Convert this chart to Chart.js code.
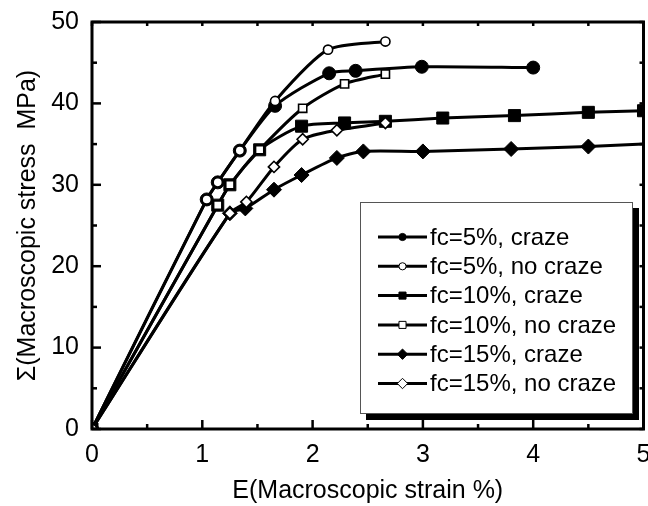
<!DOCTYPE html>
<html>
<head>
<meta charset="utf-8">
<script src="https://cdn.jsdelivr.net/npm/chart.js@4/dist/chart.umd.min.js"></script>
<style>
html,body{margin:0;padding:0;background:#fff;overflow:hidden;}
#wrap{width:648px;height:506px;position:relative;overflow:hidden;}
#c{display:block;}
</style>
</head>
<body>
<div id="wrap"><canvas id="c" width="653" height="506"></canvas></div>
<script>
// ---- data ----
const seriesLabels = ['fc=5%, craze', 'fc=5%, no craze', 'fc=10%, craze', 'fc=10%, no craze', 'fc=15%, craze', 'fc=15%, no craze'];

const craze5X   = [0, 1.04, 1.14, 1.34, 1.66, 2.15, 2.39, 2.99, 4.00];
const craze5Y   = [0, 28.2, 30.3, 34.2, 39.7, 43.7, 44.0, 44.5, 44.4];
const noCraze5X = [0, 1.04, 1.14, 1.34, 1.66, 2.14, 2.66];
const noCraze5Y = [0, 28.2, 30.3, 34.2, 40.3, 46.6, 47.6];

const craze10X   = [0, 1.14, 1.25, 1.52, 1.90, 2.29, 2.66, 3.18, 3.83, 4.50, 5.00];
const craze10Y   = [0, 27.5, 30.0, 34.3, 37.2, 37.6, 37.8, 38.2, 38.5, 38.9, 39.1];
const noCraze10X = [0, 1.14, 1.25, 1.52, 1.91, 2.29, 2.66];
const noCraze10Y = [0, 27.5, 30.0, 34.3, 39.4, 42.4, 43.6];

const craze15X   = [0, 1.25, 1.39, 1.65, 1.90, 2.22, 2.46, 3.00, 3.80, 4.50, 5.00];
const craze15Y   = [0, 26.5, 27.1, 29.4, 31.2, 33.3, 34.1, 34.1, 34.4, 34.7, 35.0];
const noCraze15X = [0, 1.25, 1.40, 1.65, 1.91, 2.22, 2.66];
const noCraze15Y = [0, 26.5, 27.9, 32.2, 35.6, 36.7, 37.6];

const xTicks = [0, 1, 2, 3, 4, 5];
const yTicks = [0, 10, 20, 30, 40, 50];
const xTitle = 'E(Macroscopic strain %)';
const yTitle = '\u03A3(Macroscopic stress  MPa)';

// ---- build ----
const toPts = (xs, ys) => xs.map((x, i) => ({x: x, y: ys[i]}));

const markerSpecs = [
  {style: 'circle',  filled: true,  r: 6.5, lr: 3.6},
  {style: 'circle',  filled: false, r: 4.6, lr: 3.6},
  {style: 'rect',    filled: true,  r: 8.5, lr: 5.0},
  {style: 'rect',    filled: false, r: 5.8, lr: 5.0},
  {style: 'rectRot', filled: true,  r: 7.5, lr: 5.2},
  {style: 'rectRot', filled: false, r: 5.6, lr: 5.2}
];
const seriesData = [
  toPts(craze5X, craze5Y), toPts(noCraze5X, noCraze5Y),
  toPts(craze10X, craze10Y), toPts(noCraze10X, noCraze10Y),
  toPts(craze15X, craze15Y), toPts(noCraze15X, noCraze15Y)
];

const datasets = seriesData.map((d, i) => {
  const m = markerSpecs[i];
  return {
    label: seriesLabels[i],
    data: d,
    showLine: true,
    borderColor: '#000',
    borderWidth: 3,
    tension: 0.25,
    pointStyle: m.style,
    pointRadius: (ctx) => (i === 4 && ctx.dataIndex === d.length - 1) ? 0 : m.r,
    pointHoverRadius: m.r,
    pointBackgroundColor: m.filled ? '#000' : '#fff',
    pointBorderColor: '#000',
    pointBorderWidth: m.filled ? 1 : 1.6,
    order: m.filled ? 2 : 1,
    clip: 0
  };
});

Chart.defaults.font.family = "'Liberation Sans', Arial, sans-serif";
Chart.defaults.font.size = 25;
Chart.defaults.color = '#000';

function drawMarker(ctx, style, filled, r, x, y, bw) {
  ctx.beginPath();
  if (style === 'circle') {
    ctx.arc(x, y, r, 0, Math.PI * 2);
  } else if (style === 'rect') {
    const s = r * Math.SQRT1_2;
    ctx.rect(x - s, y - s, 2 * s, 2 * s);
  } else {
    ctx.moveTo(x - r, y); ctx.lineTo(x, y - r); ctx.lineTo(x + r, y); ctx.lineTo(x, y + r); ctx.closePath();
  }
  ctx.fillStyle = filled ? '#000' : '#fff';
  ctx.fill();
  ctx.lineWidth = bw;
  ctx.strokeStyle = '#000';
  ctx.stroke();
}

const framePlugin = {
  id: 'frameAndLegend',
  afterDatasetsDraw(chart) {
    const ctx = chart.ctx, a = chart.chartArea;
    const xs = chart.scales.x, ys = chart.scales.y;
    ctx.save();
    ctx.strokeStyle = '#000';
    const seg = (x1, y1, x2, y2) => { ctx.beginPath(); ctx.moveTo(x1, y1); ctx.lineTo(x2, y2); ctx.stroke(); };
    ctx.lineWidth = 2.5;
    for (let k = 0; k <= 10; k++) {
      const v = k * 0.5;
      const px = xs.getPixelForValue(v);
      const major = k % 2 === 0;
      seg(px, a.bottom, px, a.bottom - (major ? 9 : 5));
      seg(px, a.top, px, a.top + 4);
    }
    for (let k = 0; k <= 10; k++) {
      const v = k * 5;
      const py = ys.getPixelForValue(v);
      const major = k % 2 === 0;
      seg(a.left, py, a.left + (major ? 9 : 5), py);
      seg(a.right, py, a.right - 4, py);
    }
    ctx.lineWidth = 3;
    ctx.strokeRect(a.left, a.top, a.right - a.left, a.bottom - a.top);

    // legend box with shadow
    const lx = 360, ly = 202, lw = 273, lh = 212;
    ctx.fillStyle = '#000';
    ctx.fillRect(lx + 6, ly + 6, lw, lh);
    ctx.fillStyle = '#fff';
    ctx.fillRect(lx, ly, lw, lh);
    ctx.lineWidth = 1;
    ctx.strokeStyle = '#555';
    ctx.strokeRect(lx + 0.5, ly + 0.5, lw - 1, lh - 1);

    ctx.font = "24px 'Liberation Sans', Arial, sans-serif";
    ctx.textBaseline = 'middle';
    ctx.textAlign = 'left';
    chart.data.datasets.forEach((ds, i) => {
      const ry = 237 + i * 29.3;
      const m = markerSpecs[i];
      ctx.strokeStyle = '#000';
      ctx.lineWidth = 3;
      seg(378, ry, 427, ry);
      drawMarker(ctx, m.style, m.filled, m.lr, 402.5, ry, 1);
      ctx.fillStyle = '#000';
      ctx.fillText(ds.label, 430, ry + 1);
    });
    ctx.restore();
  }
};

new Chart(document.getElementById('c'), {
  type: 'scatter',
  data: {datasets: datasets},
  plugins: [framePlugin],
  options: {
    responsive: false,
    animation: false,
    devicePixelRatio: 1,
    layout: {padding: {left: 0, right: 0, top: 22, bottom: 0}},
    plugins: {legend: {display: false}, tooltip: {enabled: false}},
    scales: {
      x: {
        type: 'linear', min: 0, max: 5,
        afterBuildTicks: (s) => { s.ticks = xTicks.map(v => ({value: v})); },
        afterFit: (s) => { s.height = 77; s.paddingLeft = 0; s.paddingRight = 0; },
        grid: {display: false, drawTicks: false},
        border: {display: false},
        ticks: {padding: 11, color: '#000', font: {size: 25}, maxRotation: 0, autoSkip: false},
        title: {display: true, text: xTitle, color: '#000', font: {size: 25}, padding: {top: 0, bottom: 0}}
      },
      y: {
        type: 'linear', min: 0, max: 50,
        afterBuildTicks: (s) => { s.ticks = yTicks.map(v => ({value: v})); },
        afterFit: (s) => { s.width = 92; s.paddingTop = 0; s.paddingBottom = 0; },
        grid: {display: false, drawTicks: false},
        border: {display: false},
        ticks: {padding: 13, color: '#000', font: {size: 25}, autoSkip: false},
        title: {display: true, text: yTitle, color: '#000', font: {size: 25}, padding: {top: 13, bottom: 13}}
      }
    }
  }
});
</script>
</body>
</html>
